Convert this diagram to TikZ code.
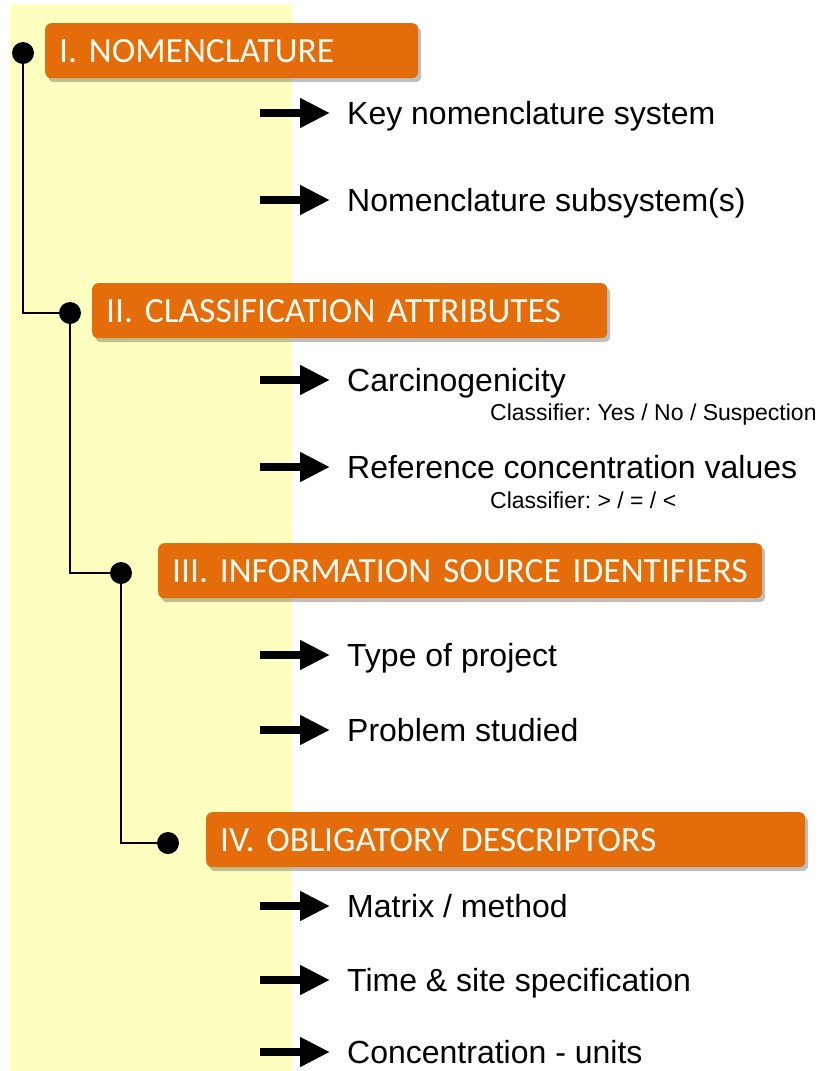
\documentclass[tikz,border=0pt]{standalone}
\usepackage{fontspec}
\setmainfont{Liberation Sans}
\newfontfamily\boxfont[WordSpace=0.85]{Carlito}
\usetikzlibrary{arrows.meta,shadows}
\definecolor{bandyellow}{RGB}{255,255,192}
\definecolor{headorange}{RGB}{228,108,10}
\definecolor{headtext}{RGB}{255,250,240}
\frenchspacing
\begin{document}
\begin{tikzpicture}[x=1pt,y=-1pt,
  headbox/.style={draw=none, fill=headorange, rounded corners=6pt,
    anchor=north west, inner xsep=14pt, inner ysep=0pt,
    minimum height=55pt, align=left, text=headtext,
    font=\boxfont\fontsize{35.5}{40}\selectfont,
    drop shadow={shadow xshift=3pt, shadow yshift=-4pt, fill=black, opacity=0.25}},
  dot/.style={circle, fill=black, inner sep=0pt, minimum size=22pt},
  tree/.style={line width=1.3pt, black},
  item/.style={anchor=base west, inner sep=0pt, font=\fontsize{32}{36}\selectfont},
  note/.style={anchor=base west, inner sep=0pt, font=\fontsize{23}{26}\selectfont},
  blockarrow/.style={line width=8pt, -{Triangle[length=30pt,width=28pt]}, shorten >=17pt}
]
\useasboundingbox (0,0) rectangle (825,1071);
\fill[white] (0,0) rectangle (825,1071);
% pale band behind the tree
\fill[bandyellow] (10,4) rectangle (292,1071);

% section headers
\node[headbox, text width=345pt] (h1) at (45,23) {\mbox{I. NOMENCLATURE}};
\node[headbox, text width=487pt] (h2) at (92,283) {\mbox{II. CLASSIFICATION ATTRIBUTES}};
\node[headbox, text width=576pt] (h3) at (158,543) {\mbox{III. INFORMATION SOURCE IDENTIFIERS}};
\node[headbox, text width=571pt] (h4) at (206,812) {\mbox{IV. OBLIGATORY DESCRIPTORS}};

% tree dots
\node[dot] (d1) at (23,53) {};
\node[dot] (d2) at (70,313) {};
\node[dot] (d3) at (121,573) {};
\node[dot] (d4) at (168,843) {};
\draw[tree] (d1) |- (d2);
\draw[tree] (d2) |- (d3);
\draw[tree] (d3) |- (d4);

% items
\node[item] (t1) at (347,124) {Key nomenclature system};
\node[item] (t2) at (347,211) {Nomenclature subsystem(s)};
\node[item] (t3) at (347,391) {Carcinogenicity};
\node[note] (n3) at (490,420) {Classifier: Yes / No / Suspection};
\node[item] (t4) at (347,478) {Reference concentration values};
\node[note] (n4) at (490,508) {Classifier: {>} / = / {<}};
\node[item] (t5) at (347,666) {Type of project};
\node[item] (t6) at (347,741) {Problem studied};
\node[item] (t7) at (347,917) {Matrix / method};
\node[item] (t8) at (347,991) {Time \& site specification};
\node[item] (t9) at (347,1063) {Concentration - units};

% arrow tails
\coordinate (a1) at (260,113);
\coordinate (a2) at (260,200);
\coordinate (a3) at (260,380);
\coordinate (a4) at (260,467);
\coordinate (a5) at (260,655);
\coordinate (a6) at (260,730);
\coordinate (a7) at (260,906);
\coordinate (a8) at (260,980);
\coordinate (a9) at (260,1052);
\foreach \i in {1,...,9}{
  \draw[blockarrow] (a\i) -- (a\i -| t\i.west);
}
\end{tikzpicture}
\end{document}
